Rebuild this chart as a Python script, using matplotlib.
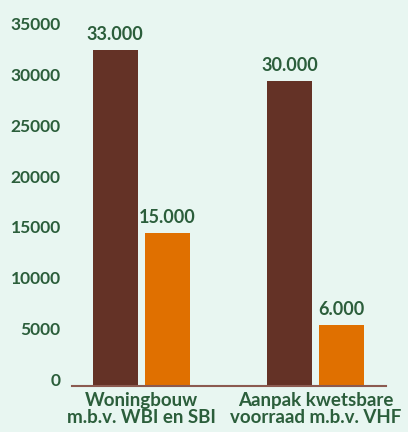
import numpy as np
import matplotlib
matplotlib.use("Agg")
import matplotlib.pyplot as plt

categories = ["Woningbouw\nm.b.v. WBI en SBI", "Aanpak kwetsbare\nvoorraad m.b.v. VHF"]
serie_bruin = [33000, 30000]
serie_oranje = [15000, 6000]
labels_bruin = ["33.000", "30.000"]
labels_oranje = ["15.000", "6.000"]
yticks = [0, 5000, 10000, 15000, 20000, 25000, 30000, 35000]

bg = "#e8f6f1"
groen = "#2b5e3b"
bruin = "#643226"
oranje = "#e07000"

plt.rcParams['font.family'] = ['Lato', 'DejaVu Sans']
plt.rcParams['font.weight'] = 'bold'

fig = plt.figure(figsize=(4.08, 4.32), dpi=100, facecolor=bg)
ax = fig.add_axes([0.176, 0.1065, 0.770, 0.824])
ax.set_facecolor(bg)

x = np.arange(len(categories))
w = 0.2586
off = 0.1494
b1 = ax.bar(x - off, serie_bruin, w, color=bruin, zorder=2)
b2 = ax.bar(x + off, serie_oranje, w, color=oranje, zorder=2)

for rect, lab in zip(b1, labels_bruin):
    ax.annotate(lab, (rect.get_x() + rect.get_width() / 2, rect.get_height()),
                xytext=(0, 5), textcoords="offset points", ha="center", va="bottom",
                color=groen, fontsize=13, fontweight="bold", annotation_clip=False)
for rect, lab in zip(b2, labels_oranje):
    ax.annotate(lab, (rect.get_x() + rect.get_width() / 2, rect.get_height()),
                xytext=(0, 5), textcoords="offset points", ha="center", va="bottom",
                color=groen, fontsize=13, fontweight="bold", annotation_clip=False)

ax.set_xlim(-0.3994, 1.405)
ax.set_ylim(0, 35000)
ax.set_yticks(yticks)
ax.set_yticklabels([str(t) for t in yticks], color=groen, fontsize=12.5,
                   fontweight="bold", va="baseline")
ax.tick_params(axis="y", length=0, pad=8)
ax.set_xticks(x)
ax.set_xticklabels(categories, color=groen, fontsize=13.5, fontweight="bold",
                   linespacing=1.05)
ax.get_xticklabels()[0].set_x(-0.02)
ax.get_xticklabels()[1].set_x(1.01)
ax.tick_params(axis="x", length=0, pad=4)

for s in ["top", "right", "left"]:
    ax.spines[s].set_visible(False)
ax.spines["bottom"].set_color("#8b5a50")
ax.spines["bottom"].set_linewidth(1.5)

fig.savefig("out.png", dpi=100, facecolor=bg)
